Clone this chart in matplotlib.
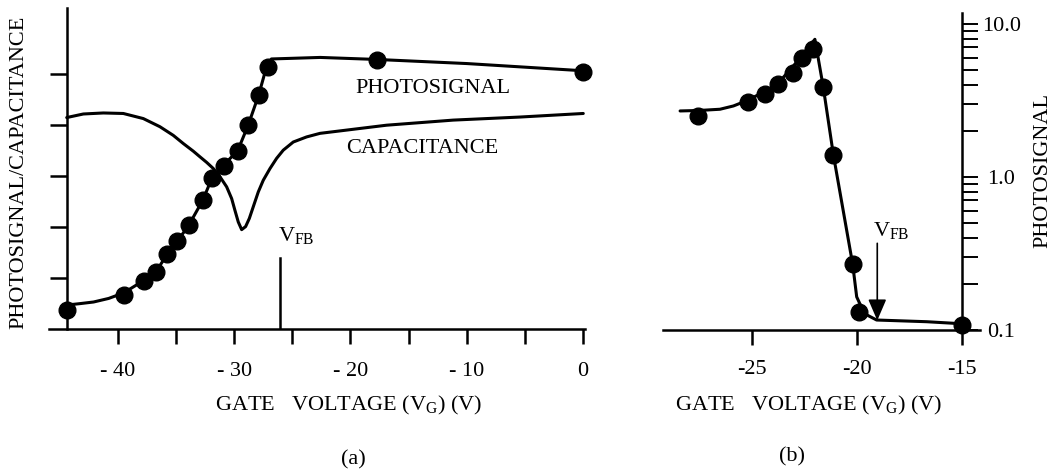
import matplotlib

matplotlib.use("Agg")
import matplotlib.pyplot as plt
from matplotlib.ticker import FixedLocator, NullFormatter, LogLocator

plt.rcParams["font.family"] = ["Liberation Serif", "DejaVu Serif"]
plt.rcParams["font.size"] = 16

# (a) photosignal and capacitance vs gate voltage (linear, arbitrary units)
ps_pts_v = [-44.4, -39.5, -37.8, -36.7, -35.8, -34.9, -33.9, -32.7, -31.9,
            -30.9, -29.7, -28.8, -27.9, -27.1, -17.7, 0.0]
ps_pts_y = [0.37, 0.67, 0.95, 1.12, 1.47, 1.73, 2.04, 2.53, 2.97,
            3.20, 3.50, 4.00, 4.59, 5.14, 5.27, 5.05]

ps_fit_v = [-44.4, -43.2, -42.1, -40.8, -39.5, -37.8, -36.7, -35.8, -34.9, -33.9,
            -32.7, -31.9, -30.9, -29.7, -28.8, -27.9, -27.3, -26.8, -22.6, -17.7,
            -10.0, -0.1]
ps_fit_y = [0.47, 0.50, 0.53, 0.60, 0.71, 0.95, 1.14, 1.45, 1.72, 2.04,
            2.53, 2.97, 3.22, 3.50, 4.00, 4.59, 5.08, 5.30, 5.33, 5.29,
            5.21, 5.07]

cap_v = [-44.41, -42.98, -41.26, -39.54, -37.82, -36.39, -35.24, -34.38, -33.52,
         -32.95, -32.37, -31.80, -31.23, -30.65, -30.22, -29.94, -29.65, -29.36,
         -29.02, -28.70, -28.36, -27.93, -27.50, -26.92, -26.35, -25.78, -24.92,
         -23.77, -22.62, -16.89, -11.16, -5.42, 0.03]
cap_y = [4.15, 4.22, 4.24, 4.23, 4.13, 3.97, 3.80, 3.64, 3.49,
         3.38, 3.27, 3.15, 2.99, 2.79, 2.56, 2.33, 2.10, 1.95,
         2.01, 2.17, 2.40, 2.69, 2.92, 3.15, 3.35, 3.51, 3.67,
         3.77, 3.84, 4.00, 4.10, 4.16, 4.23]

vfb_a = -26.1
vfb_a_height = 1.39

# (b) photosignal on a log scale near flat band
pb_pts_v = [-27.54, -25.16, -24.37, -23.73, -23.05, -22.62, -22.10, -21.59,
            -21.11, -20.19, -19.87, -15.0]
pb_pts_y = [2.49, 3.06, 3.46, 4.02, 4.78, 5.94, 6.80, 3.84,
            1.39, 0.267, 0.131, 0.107]

pb_fit_v = [-28.41, -27.5, -26.51, -25.87, -25.16, -23.81, -22.70, -21.99,
            -21.59, -21.11, -20.19, -20.0, -19.75, -19.52, -19.05, -16.67, -15.0]
pb_fit_y = [2.69, 2.71, 2.76, 2.90, 3.17, 3.98, 5.94, 7.91,
            3.84, 1.39, 0.267, 0.164, 0.138, 0.125, 0.1157, 0.1128, 0.1094]

vfb_b = -19.02
vfb_b_arrow = (0.367, 0.115)

xt_a = [-40, -35, -30, -25, -20, -15, -10, -5, 0]
xt_a_labels = ["- 40", "", "- 30", "", "- 20", "", "- 10", "", "0"]
xt_b = [-25, -20, -15]
xt_b_labels = ["-25", "-20", "-15"]
yt_b = [0.1, 1.0, 10.0]
yt_b_labels = ["0.1", "1.0", "10.0"]

LW_AX = 1.8
LW_CURVE = 2.2
MS = 12

fig = plt.figure(figsize=(10.51, 4.74), dpi=100)

# ---- panel (a) ----
ax = fig.add_axes([0.0470, 0.3059, 0.5093, 0.6772])
ax.set_xlim(-45.9, 0.15)
ax.set_ylim(0, 6.3)
for s in ("top", "right"):
    ax.spines[s].set_visible(False)
ax.spines["left"].set_position(("data", -44.4))
for s in ("left", "bottom"):
    ax.spines[s].set_linewidth(LW_AX)

ax.plot(cap_v, cap_y, color="black", lw=LW_CURVE, clip_on=False,
        solid_capstyle="round", solid_joinstyle="round")
ax.plot(ps_fit_v, ps_fit_y, color="black", lw=LW_CURVE, clip_on=False,
        solid_capstyle="round", solid_joinstyle="round")
ax.plot(ps_pts_v, ps_pts_y, "o", color="black", ms=MS, clip_on=False, zorder=5)
ax.plot([vfb_a, vfb_a], [0, vfb_a_height], color="black", lw=LW_AX)

ax.text(-19.61, 4.63, "PHOTOSIGNAL", ha="left", va="baseline")
ax.text(-20.39, 3.45, "CAPACITANCE", ha="left", va="baseline")
ax.text(-26.24, 1.71, r"V$_\mathregular{FB}$", ha="left", va="baseline")

ax.xaxis.set_major_locator(FixedLocator(xt_a))
ax.set_xticklabels(xt_a_labels)
ax.set_yticks([1, 2, 3, 4, 5])
ax.set_yticklabels([])
ax.tick_params(axis="x", direction="out", length=11, width=LW_AX, pad=13)
ax.tick_params(axis="y", direction="out", length=12.5, width=LW_AX)

# ---- panel (b) ----
bx = fig.add_axes([0.6305, 0.3044, 0.3019, 0.6688])
bx.set_yscale("log")
bx.set_xlim(-29.24, -14.13)
bx.set_ylim(0.1, 11.8)
for s in ("top", "left"):
    bx.spines[s].set_visible(False)
bx.spines["right"].set_position(("data", -15))
for s in ("right", "bottom"):
    bx.spines[s].set_linewidth(LW_AX)

bx.plot(pb_fit_v, pb_fit_y, color="black", lw=LW_CURVE, clip_on=False,
        solid_capstyle="round", solid_joinstyle="round")
bx.plot(pb_pts_v, pb_pts_y, "o", color="black", ms=MS, clip_on=False, zorder=5)
bx.annotate("", xy=(vfb_b, vfb_b_arrow[1]), xytext=(vfb_b, vfb_b_arrow[0]),
            arrowprops=dict(arrowstyle="-|>,head_length=0.65,head_width=0.28",
                            mutation_scale=20, lw=1.2, color="black",
                            shrinkA=0, shrinkB=0))
bx.text(-19.22, 0.41, r"V$_\mathregular{FB}$", ha="left", va="baseline")

bx.yaxis.tick_right()
bx.yaxis.set_major_locator(FixedLocator(yt_b))
bx.set_yticklabels(yt_b_labels)
bx.yaxis.set_minor_locator(LogLocator(base=10, subs=range(2, 10)))
bx.yaxis.set_minor_formatter(NullFormatter())
bx.tick_params(axis="y", which="both", direction="out", length=11.5,
               width=1.4, pad=17)
for lab in bx.get_yticklabels():
    lab.set_ha("center")
bx.set_xticks(xt_b)
bx.set_xticklabels(xt_b_labels)
bx.tick_params(axis="x", direction="out", length=11, width=LW_AX, pad=11)

# ---- figure-level labels ----
fig.text(18.5 / 1051, 0.637, "PHOTOSIGNAL/CAPACITANCE", rotation=90,
         ha="center", va="center")
fig.text(1043 / 1051, 0.641, "PHOTOSIGNAL", rotation=90,
         ha="center", va="center")
fig.text(215 / 1051, 0.135, r"GATE   VOLTAGE (V$_\mathregular{G}$) (V)",
         ha="left", va="baseline")
fig.text(675 / 1051, 0.135, r"GATE   VOLTAGE (V$_\mathregular{G}$) (V)",
         ha="left", va="baseline")
fig.text(353 / 1051, 0.030, "(a)", ha="center", va="center")
fig.text(792 / 1051, 0.036, "(b)", ha="center", va="center")

fig.savefig("out.png", dpi=100)
